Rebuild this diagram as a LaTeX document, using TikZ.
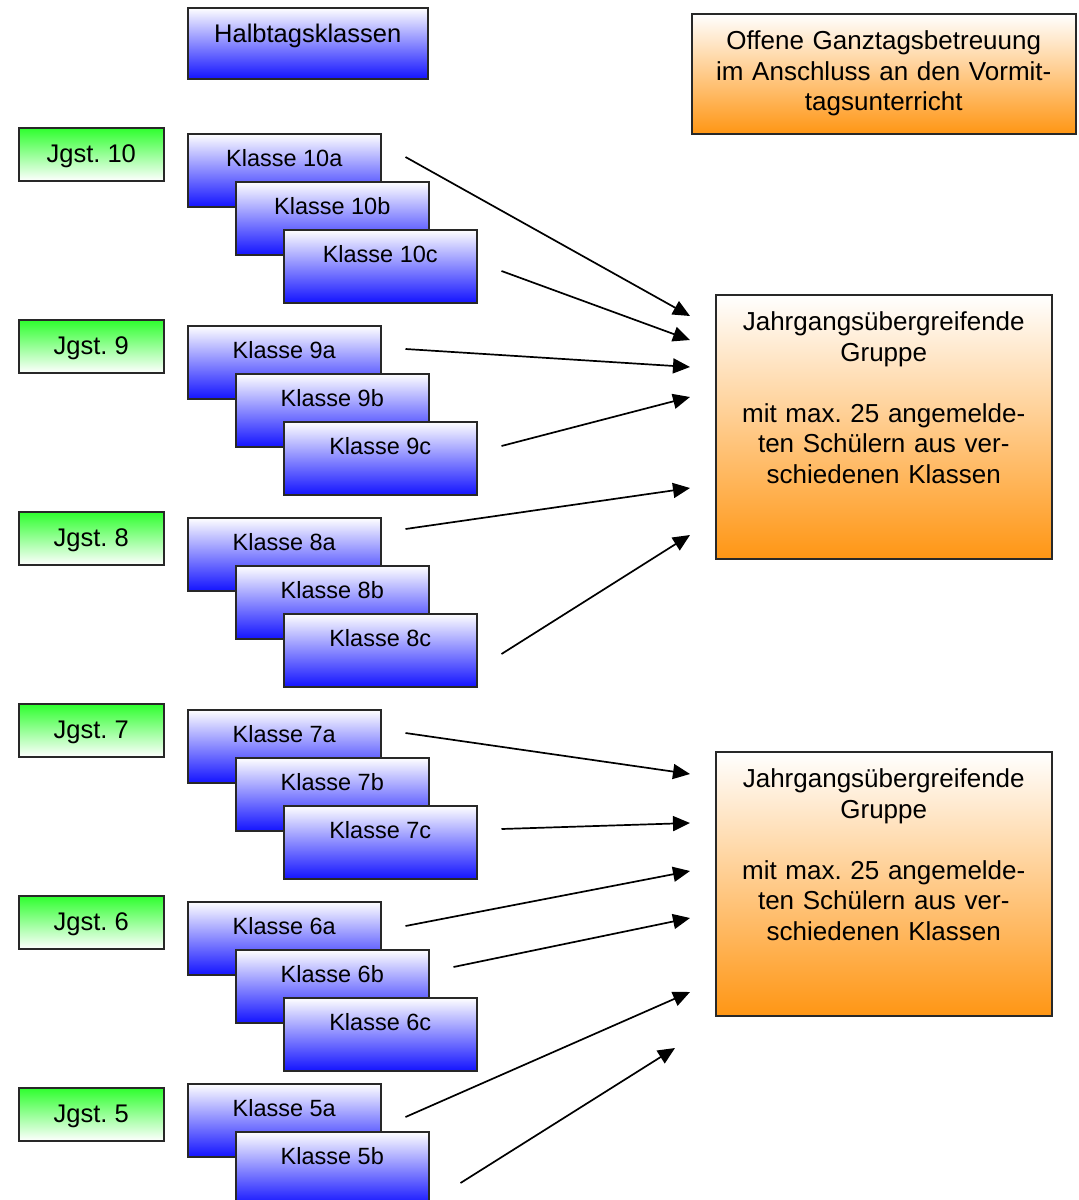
\documentclass[tikz,border=0pt]{standalone}
\usepackage{fontspec}
\setmainfont{Liberation Sans}
\usepackage{tikz}
\usetikzlibrary{arrows.meta,positioning}
\definecolor{rand}{RGB}{40,40,40}
\definecolor{klassblau}{RGB}{20,20,255}
\definecolor{jgstgruen}{RGB}{45,255,45}
\definecolor{ogsorange}{RGB}{255,150,20}
\frenchspacing

\begin{document}
\begin{tikzpicture}[x=1pt,y=-1pt,
  klasse/.style={rectangle,draw=rand,line width=1.5pt,top color=white,bottom color=klassblau,
                 anchor=north west,minimum width=193pt,inner xsep=0pt,inner ysep=0pt,
                 text height=33pt,text depth=40pt,font=\fontsize{23.5}{28}\selectfont},
  jgst/.style={rectangle,draw=rand,line width=1.5pt,top color=jgstgruen,bottom color=white,
               anchor=north west,minimum width=145pt,inner xsep=0pt,inner ysep=0pt,
               text height=35pt,text depth=18pt,font=\fontsize{25.5}{30}\selectfont},
  ogs/.style={rectangle,draw=rand,line width=1.5pt,top color=white,bottom color=ogsorange,
              anchor=north west,inner xsep=0pt,inner ysep=0pt,align=center,
              font=\fontsize{26}{30.5}\selectfont},
  arr/.style={-{Triangle[length=17pt,width=15pt]},line width=1.7pt,color=black}
]
  \useasboundingbox (0,0) rectangle (1079,1200);
  \clip (0,0) rectangle (1079,1200);

  \node[klasse,minimum width=240pt,text height=35pt,text depth=36pt,
        font=\fontsize{25.5}{30}\selectfont] (halb) at (187,7) {Halbtagsklassen};
  \node[ogs,text width=384pt,text height=36pt,text depth=84pt] (ogs) at (691,13)
    {Offene Ganztagsbetreuung\\im Anschluss an den Vormit-\\tagsunterricht};

% ---------------- Jahrgangsstufen ----------------
  \node[jgst] (j10) at (18,127) {Jgst. 10};
  \node[jgst] (j9)  at (18,319) {Jgst. 9};
  \node[jgst] (j8)  at (18,511) {Jgst. 8};
  \node[jgst] (j7)  at (18,703) {Jgst. 7};
  \node[jgst] (j6)  at (18,895) {Jgst. 6};
  \node[jgst] (j5)  at (18,1087) {Jgst. 5};

% ---------------- Klassen ----------------
  \node[klasse] (k10a) at (187,133) {Klasse 10a};
  \node[klasse] (k10b) at ([shift={(48,48)}]k10a.north west) {Klasse 10b};
  \node[klasse] (k10c) at ([shift={(48,48)}]k10b.north west) {Klasse 10c};

  \node[klasse] (k9a) at (187,325) {Klasse 9a};
  \node[klasse] (k9b) at ([shift={(48,48)}]k9a.north west) {Klasse 9b};
  \node[klasse] (k9c) at ([shift={(48,48)}]k9b.north west) {Klasse 9c};

  \node[klasse] (k8a) at (187,517) {Klasse 8a};
  \node[klasse] (k8b) at ([shift={(48,48)}]k8a.north west) {Klasse 8b};
  \node[klasse] (k8c) at ([shift={(48,48)}]k8b.north west) {Klasse 8c};

  \node[klasse] (k7a) at (187,709) {Klasse 7a};
  \node[klasse] (k7b) at ([shift={(48,48)}]k7a.north west) {Klasse 7b};
  \node[klasse] (k7c) at ([shift={(48,48)}]k7b.north west) {Klasse 7c};

  \node[klasse] (k6a) at (187,901) {Klasse 6a};
  \node[klasse] (k6b) at ([shift={(48,48)}]k6a.north west) {Klasse 6b};
  \node[klasse] (k6c) at ([shift={(48,48)}]k6b.north west) {Klasse 6c};

  \node[klasse] (k5a) at (187,1083) {Klasse 5a};
  \node[klasse] (k5b) at ([shift={(48,48)}]k5a.north west) {Klasse 5b};

% ---------------- Gruppen ----------------
  \node[ogs,text width=336pt,text height=36pt,text depth=228pt] (g1) at (715,294)
    {Jahrgangs\"ubergreifende\\Gruppe\\[30.5pt]mit max. 25 angemelde-\\ten Sch\"ulern aus ver-\\schiedenen Klassen};
  \node[ogs,text width=336pt,text height=36pt,text depth=228pt] (g2) at (715,751)
    {Jahrgangs\"ubergreifende\\Gruppe\\[30.5pt]mit max. 25 angemelde-\\ten Sch\"ulern aus ver-\\schiedenen Klassen};

  \coordinate (e1) at (690,316);  \coordinate (e2) at (690,340);
  \coordinate (e3) at (690,367);  \coordinate (e4) at (690,397);
  \coordinate (e5) at (690,488);  \coordinate (e6) at (690,535);
  \coordinate (e7) at (690,774);  \coordinate (e8) at (690,823);
  \coordinate (e9) at (690,871);  \coordinate (e10) at (690,918);
  \coordinate (e11) at (690,992); \coordinate (e12) at (675,1048);

  \draw[arr] ([shift={(24,24)}]k10a.north east) -- (e1);
  \draw[arr] ([shift={(24,42)}]k10c.north east) -- (e2);
  \draw[arr] ([shift={(24,24)}]k9a.north east) -- (e3);
  \draw[arr] ([shift={(24,25)}]k9c.north east) -- (e4);
  \draw[arr] ([shift={(24,12)}]k8a.north east) -- (e5);
  \draw[arr] ([shift={(24,41)}]k8c.north east) -- (e6);
  \draw[arr] ([shift={(24,24)}]k7a.north east) -- (e7);
  \draw[arr] ([shift={(24,24)}]k7c.north east) -- (e8);
  \draw[arr] ([shift={(24,25)}]k6a.north east) -- (e9);
  \draw[arr] ([shift={(24,18)}]k6b.north east) -- (e10);
  \draw[arr] ([shift={(24,34)}]k5a.north east) -- (e11);
  \draw[arr] ([shift={(31,52)}]k5b.north east) -- (e12);
\end{tikzpicture}
\end{document}
